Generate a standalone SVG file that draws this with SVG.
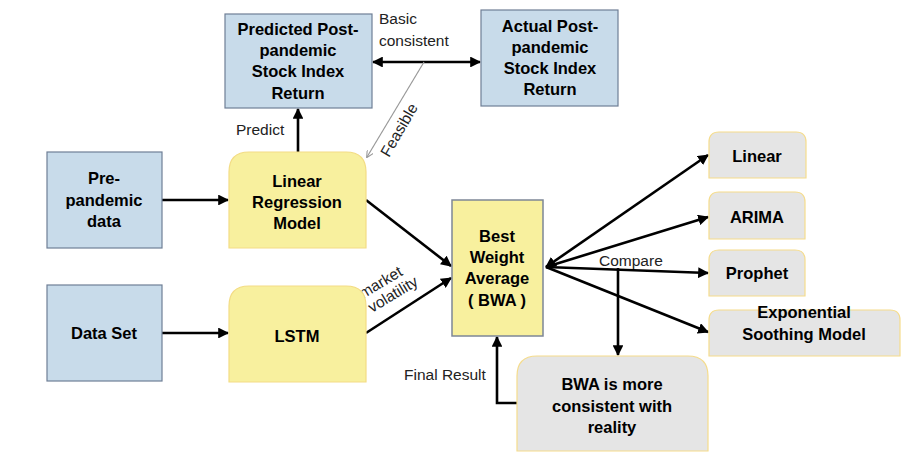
<svg xmlns="http://www.w3.org/2000/svg" width="907" height="465" viewBox="0 0 907 465">
<defs>
<marker id="ah" viewBox="0 0 10 10" refX="9" refY="5" markerWidth="4.2" markerHeight="4.2" orient="auto-start-reverse" markerUnits="strokeWidth"><path d="M0,0 L10,5 L0,10 Z" fill="#000"/></marker>
<marker id="ahg" viewBox="0 0 10 10" refX="9" refY="5" markerWidth="6" markerHeight="6" orient="auto" markerUnits="strokeWidth"><path d="M0,0 L10,5 L0,10" fill="none" stroke="#999" stroke-width="1.5"/></marker>
<style>
.blue{fill:#c8dbea;stroke:#6f7f96;stroke-width:1.2}
.yel{fill:#f8f09e;stroke:#f3dc85;stroke-width:1.2}
.bwa{fill:#f8f09e;stroke:#7d8797;stroke-width:1.5}
.gry{fill:#e5e5e5;stroke:#f5dc8c;stroke-width:1.2}
.t{font-family:"Liberation Sans",Arial,sans-serif;font-weight:bold;font-size:16.5px;fill:#000;text-anchor:middle}
.l{font-family:"Liberation Sans",Arial,sans-serif;font-size:15.5px;fill:#222}
.e{fill:none;stroke:#000;stroke-width:2.6}
</style>
</defs>
<rect width="907" height="465" fill="#fff"/>
<g id="connectors">
<line class="e" x1="162" y1="200" x2="228" y2="200" marker-end="url(#ah)"/>
<line class="e" x1="162" y1="333" x2="228" y2="333" marker-end="url(#ah)"/>
<line class="e" x1="298" y1="152" x2="298" y2="109" marker-end="url(#ah)"/>
<line class="e" x1="373" y1="62" x2="480" y2="62" marker-start="url(#ah)" marker-end="url(#ah)"/>
<line x1="424" y1="62" x2="367" y2="157" stroke="#999" stroke-width="1.2" marker-end="url(#ahg)"/>
<line class="e" x1="366" y1="200" x2="451" y2="266" marker-end="url(#ah)"/>
<line class="e" x1="366" y1="333" x2="451" y2="278" marker-end="url(#ah)"/>
<line class="e" x1="546" y1="267" x2="708" y2="155" marker-start="url(#ah)" marker-end="url(#ah)"/>
<line class="e" x1="546" y1="267" x2="708" y2="217" marker-end="url(#ah)"/>
<line class="e" x1="546" y1="267" x2="708" y2="273" marker-end="url(#ah)"/>
<line class="e" x1="546" y1="267" x2="708" y2="332" marker-end="url(#ah)"/>
<line class="e" x1="618" y1="268" x2="618" y2="355" marker-end="url(#ah)"/>
<polyline class="e" points="517,403 497,403 497,337" marker-end="url(#ah)"/>
<text class="l" x="379" y="24">Basic</text>
<text class="l" x="379" y="46">consistent</text>
<text class="l" x="236" y="135">Predict</text>
<text class="l" transform="translate(389,158) rotate(-60)">Feasible</text>
<text class="l" transform="translate(363,299) rotate(-31)">market</text>
<text class="l" transform="translate(372,313) rotate(-31)">volatility</text>
<text class="l" x="599" y="266">Compare</text>
<text class="l" x="404" y="380">Final Result</text>
</g>
<g id="predicted"><rect class="blue" x="225" y="14" width="147" height="94"/><text class="t"><tspan x="298" y="35">Predicted Post-</tspan><tspan x="298" y="56">pandemic</tspan><tspan x="298" y="77">Stock Index</tspan><tspan x="298" y="99">Return</tspan></text></g>
<g id="actual"><rect class="blue" x="481" y="10" width="137" height="96"/><text class="t"><tspan x="550" y="32">Actual Post-</tspan><tspan x="550" y="53">pandemic</tspan><tspan x="550" y="74">Stock Index</tspan><tspan x="550" y="95">Return</tspan></text></g>
<g id="prepandemic"><rect class="blue" x="47" y="152" width="115" height="96"/><text class="t"><tspan x="104" y="184">Pre-</tspan><tspan x="104" y="206">pandemic</tspan><tspan x="104" y="227">data</tspan></text></g>
<g id="dataset"><rect class="blue" x="47" y="285" width="115" height="96"/><text class="t" x="104" y="339">Data Set</text></g>
<g id="linreg"><path class="yel" d="M229,248 V172 Q229,152 249,152 H346 Q366,152 366,172 V248 Z"/><text class="t"><tspan x="297" y="187">Linear</tspan><tspan x="297" y="208">Regression</tspan><tspan x="297" y="229">Model</tspan></text></g>
<g id="lstm"><path class="yel" d="M229,382 V306 Q229,286 249,286 H346 Q366,286 366,306 V382 Z"/><text class="t" x="297" y="342">LSTM</text></g>
<g id="bwa"><rect class="bwa" x="452" y="200" width="91" height="136"/><text class="t"><tspan x="497" y="242">Best</tspan><tspan x="497" y="263">Weight</tspan><tspan x="497" y="284">Average</tspan><tspan x="497" y="306">( BWA )</tspan></text></g>
<g id="linear"><path class="gry" d="M709,178 V142 Q709,132 719,132 H796 Q806,132 806,142 V178 Z"/><text class="t" x="757" y="162">Linear</text></g>
<g id="arima"><path class="gry" d="M709,239 V202 Q709,192 719,192 H795 Q805,192 805,202 V239 Z"/><text class="t" x="757" y="223">ARIMA</text></g>
<g id="prophet"><path class="gry" d="M709,296 V260 Q709,250 719,250 H795 Q805,250 805,260 V296 Z"/><text class="t" x="757" y="279">Prophet</text></g>
<g id="exponential"><path class="gry" d="M709,356 V320 Q709,310 719,310 H890 Q900,310 900,320 V356 Z"/><text class="t"><tspan x="804" y="318">Exponential</tspan><tspan x="804" y="340">Soothing Model</tspan></text></g>
<g id="bwaconsistent"><path class="gry" d="M517,451 V376 Q517,356 537,356 H688 Q708,356 708,376 V451 Z"/><text class="t"><tspan x="612" y="390">BWA is more</tspan><tspan x="612" y="412">consistent with</tspan><tspan x="612" y="433">reality</tspan></text></g>
</svg>
